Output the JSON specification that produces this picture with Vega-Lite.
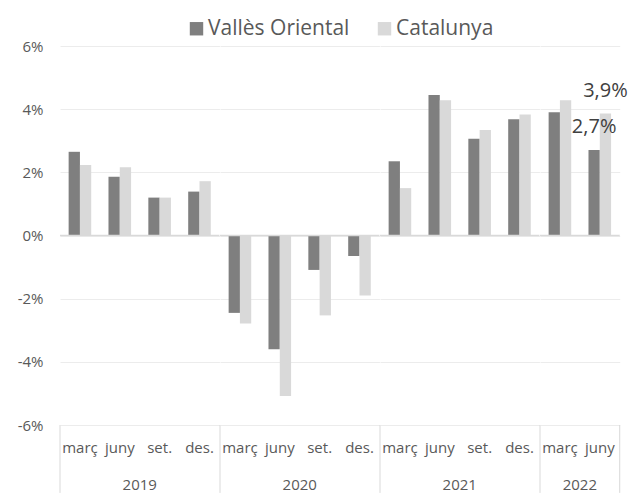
{
  "$schema": "https://vega.github.io/schema/vega-lite/v6.json",
  "padding": {"left": 0, "top": 18, "right": 0, "bottom": 0},
  "data": {
    "values": [
      {"any": "2019", "trimestre": "març", "serie": "Vallès Oriental", "valor": 0.0265},
      {"any": "2019", "trimestre": "març", "serie": "Catalunya", "valor": 0.0223},
      {"any": "2019", "trimestre": "juny", "serie": "Vallès Oriental", "valor": 0.0186},
      {"any": "2019", "trimestre": "juny", "serie": "Catalunya", "valor": 0.0216},
      {"any": "2019", "trimestre": "set.", "serie": "Vallès Oriental", "valor": 0.0120},
      {"any": "2019", "trimestre": "set.", "serie": "Catalunya", "valor": 0.0120},
      {"any": "2019", "trimestre": "des.", "serie": "Vallès Oriental", "valor": 0.0139},
      {"any": "2019", "trimestre": "des.", "serie": "Catalunya", "valor": 0.0172},
      {"any": "2020", "trimestre": "març", "serie": "Vallès Oriental", "valor": -0.0245},
      {"any": "2020", "trimestre": "març", "serie": "Catalunya", "valor": -0.0279},
      {"any": "2020", "trimestre": "juny", "serie": "Vallès Oriental", "valor": -0.0360},
      {"any": "2020", "trimestre": "juny", "serie": "Catalunya", "valor": -0.0508},
      {"any": "2020", "trimestre": "set.", "serie": "Vallès Oriental", "valor": -0.0109},
      {"any": "2020", "trimestre": "set.", "serie": "Catalunya", "valor": -0.0253},
      {"any": "2020", "trimestre": "des.", "serie": "Vallès Oriental", "valor": -0.0065},
      {"any": "2020", "trimestre": "des.", "serie": "Catalunya", "valor": -0.0190},
      {"any": "2021", "trimestre": "març", "serie": "Vallès Oriental", "valor": 0.0235},
      {"any": "2021", "trimestre": "març", "serie": "Catalunya", "valor": 0.0150},
      {"any": "2021", "trimestre": "juny", "serie": "Vallès Oriental", "valor": 0.0445},
      {"any": "2021", "trimestre": "juny", "serie": "Catalunya", "valor": 0.0428},
      {"any": "2021", "trimestre": "set.", "serie": "Vallès Oriental", "valor": 0.0306},
      {"any": "2021", "trimestre": "set.", "serie": "Catalunya", "valor": 0.0334},
      {"any": "2021", "trimestre": "des.", "serie": "Vallès Oriental", "valor": 0.0368},
      {"any": "2021", "trimestre": "des.", "serie": "Catalunya", "valor": 0.0383},
      {"any": "2022", "trimestre": "març", "serie": "Vallès Oriental", "valor": 0.0390},
      {"any": "2022", "trimestre": "març", "serie": "Catalunya", "valor": 0.0428},
      {"any": "2022", "trimestre": "juny", "serie": "Vallès Oriental", "valor": 0.0271},
      {"any": "2022", "trimestre": "juny", "serie": "Catalunya", "valor": 0.0386}
    ]
  },
  "facet": {
    "column": {
      "field": "any",
      "type": "ordinal",
      "title": null,
      "header": {
        "labelOrient": "bottom",
        "labelPadding": 53,
        "labelFontSize": 15,
        "labelFont": "Open Sans",
        "labelColor": "#595959"
      }
    }
  },
  "spacing": 0,
  "bounds": "flush",
  "resolve": {"scale": {"x": "independent"}},
  "spec": {
    "width": {"step": 11.297},
    "height": 379,
    "layer": [
      {
        "mark": {"type": "bar"},
        "encoding": {
          "x": {
            "field": "trimestre",
            "type": "nominal",
            "sort": ["març", "juny", "set.", "des."],
            "scale": {"paddingInner": 0, "paddingOuter": 0},
            "axis": {
              "title": null,
              "ticks": false,
              "tickSize": 0,
              "domain": false,
              "grid": false,
              "labelAngle": 0,
              "labelPadding": 22,
              "labelBaseline": "middle",
              "labelFontSize": 15,
              "labelOverlap": false,
              "labelLimit": 60,
              "minExtent": 30,
              "maxExtent": 30
            }
          },
          "xOffset": {
            "field": "serie",
            "type": "nominal",
            "sort": ["Vallès Oriental", "Catalunya"],
            "scale": {"paddingInner": 0, "paddingOuter": 0.764}
          },
          "y": {
            "field": "valor",
            "type": "quantitative",
            "scale": {"domain": [-0.06, 0.06], "nice": false},
            "axis": {
              "title": null,
              "format": ".0%",
              "values": [-0.06, -0.04, -0.02, 0, 0.02, 0.04, 0.06],
              "domain": false,
              "ticks": false,
              "labelPadding": 17,
              "labelFontSize": 15,
              "minExtent": 60,
              "maxExtent": 60,
              "gridColor": "#ececec",
              "gridWidth": 1
            }
          },
          "color": {
            "field": "serie",
            "type": "nominal",
            "scale": {"domain": ["Vallès Oriental", "Catalunya"], "range": ["#7f7f7f", "#d9d9d9"]},
            "legend": {
              "title": null,
              "orient": "none",
              "legendX": 126,
              "legendY": -28,
              "direction": "horizontal",
              "symbolType": "square",
              "symbolSize": 180,
              "symbolStrokeWidth": 0,
              "labelFontSize": 21,
              "labelFont": "Open Sans",
              "labelColor": "#595959",
              "labelOffset": 1,
              "columnPadding": 24
            }
          }
        }
      },
      {
        "transform": [{"filter": "datum.trimestre == 'març' && datum.serie == 'Catalunya'"}],
        "mark": {"type": "rule", "color": "#d9d9d9", "strokeWidth": 1.3},
        "encoding": {"y": {"datum": 0}}
      },
      {
        "transform": [{"filter": "datum.trimestre == 'març' && datum.serie == 'Catalunya'"}],
        "mark": {"type": "rule", "color": "#d9d9d9", "strokeWidth": 1},
        "encoding": {
          "x": {"field": "trimestre", "type": "nominal", "sort": ["març", "juny", "set.", "des."], "bandPosition": 0},
          "y": {"datum": -0.06},
          "y2": {"datum": -0.0815}
        }
      },
      {
        "transform": [{"filter": "datum.any == '2022' && datum.trimestre == 'juny' && datum.serie == 'Catalunya'"}],
        "mark": {"type": "rule", "color": "#d9d9d9", "strokeWidth": 1},
        "encoding": {
          "x": {"field": "trimestre", "type": "nominal", "sort": ["març", "juny", "set.", "des."], "bandPosition": 1},
          "y": {"datum": -0.06},
          "y2": {"datum": -0.0815}
        }
      },
      {
        "transform": [{"filter": "datum.any == '2022' && datum.trimestre == 'juny'"}],
        "mark": {"type": "text", "dy": -17, "baseline": "alphabetic", "align": "center", "fontSize": 20, "font": "Open Sans", "color": "#404040"},
        "encoding": {
          "x": {"field": "trimestre", "type": "nominal", "sort": ["març", "juny", "set.", "des."]},
          "xOffset": {"field": "serie", "type": "nominal", "sort": ["Vallès Oriental", "Catalunya"]},
          "y": {"field": "valor", "type": "quantitative"},
          "text": {"field": "valor", "type": "quantitative", "format": ".1%"}
        }
      }
    ]
  },
  "config": {
    "view": {"stroke": null},
    "font": "Open Sans",
    "axis": {"labelColor": "#595959", "labelFont": "Open Sans"},
    "locale": {
      "number": {"decimal": ",", "thousands": ".", "grouping": [3], "currency": ["", " €"], "minus": "-"}
    }
  }
}
